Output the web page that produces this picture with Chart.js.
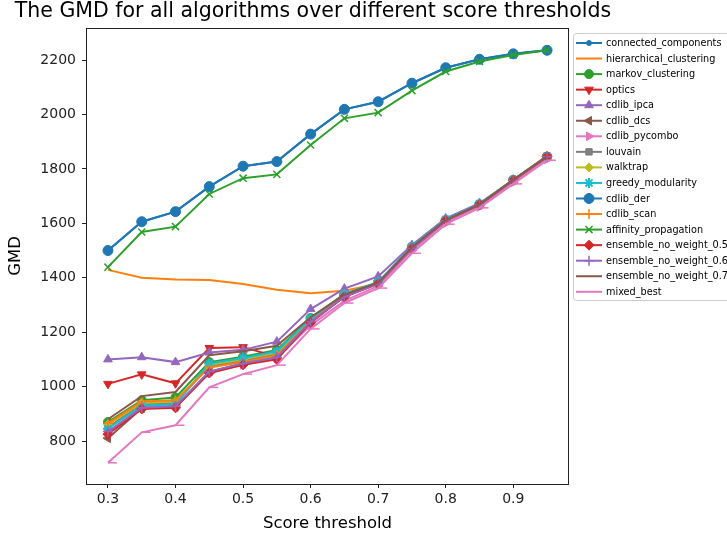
<!DOCTYPE html>
<html>
<head>
<meta charset="utf-8">
<script src="https://cdn.jsdelivr.net/npm/chart.js@4"></script>
<style>
  html, body { margin: 0; padding: 0; background: #fff; overflow: hidden; }
  #wrap { width: 727px; height: 539px; }
</style>
</head>
<body>
<div id="wrap"><canvas id="gmdChart" width="727" height="539"></canvas></div>
<script>
// thresholds on the x axis
const thresholds = [0.3, 0.35, 0.4, 0.45, 0.5, 0.55, 0.6, 0.65, 0.7, 0.75, 0.8, 0.85, 0.9, 0.95];
const xTicks = [0.3, 0.4, 0.5, 0.6, 0.7, 0.8, 0.9];
const yTicks = [800, 1000, 1200, 1400, 1600, 1800, 2000, 2200];

// GMD per algorithm
const connectedComponents = [1500, 1606, 1643, 1735, 1810, 1827, 1928, 2019, 2047, 2115, 2172, 2203, 2223, 2236];
const hierarchicalClustering = [1429, 1400, 1394, 1392, 1377, 1356, 1343, 1352, 1378, 1505, 1607, 1668, 1755, 1840];
const markovClustering = [870, 950, 960, 1090, 1110, 1135, 1252, 1340, 1384, 1514, 1612, 1670, 1760, 1845];
const optics = [1010, 1045, 1012, 1142, 1145, 1110, 1240, 1330, 1380, 1510, 1610, 1668, 1758, 1845];
const cdlibIpca = [1100, 1108, 1090, 1125, 1135, 1165, 1285, 1360, 1405, 1520, 1618, 1674, 1760, 1845];
const cdlibDcs = [810, 920, 925, 1055, 1085, 1105, 1240, 1335, 1380, 1510, 1610, 1668, 1758, 1845];
const cdlibPycombo = [830, 925, 930, 1050, 1080, 1105, 1225, 1315, 1370, 1500, 1600, 1660, 1750, 1835];
const louvain = [850, 935, 940, 1075, 1095, 1120, 1245, 1335, 1380, 1510, 1612, 1670, 1760, 1848];
const walktrap = [860, 940, 945, 1080, 1100, 1125, 1248, 1338, 1382, 1512, 1612, 1670, 1760, 1846];
const greedyModularity = [845, 930, 935, 1085, 1105, 1130, 1250, 1340, 1385, 1515, 1614, 1672, 1760, 1846];
const cdlibDer = [1500, 1606, 1643, 1735, 1810, 1827, 1928, 2019, 2047, 2115, 2172, 2203, 2223, 2236];
const cdlibScan = [865, 945, 950, 1070, 1090, 1115, 1240, 1332, 1378, 1508, 1610, 1668, 1758, 1845];
const affinityPropagation = [1439, 1568, 1588, 1708, 1766, 1780, 1888, 1986, 2007, 2088, 2158, 2195, 2219, 2236];
const ensemble05 = [825, 918, 922, 1050, 1080, 1100, 1235, 1330, 1378, 1508, 1610, 1668, 1758, 1845];
const ensemble06 = [835, 922, 928, 1055, 1085, 1108, 1238, 1330, 1378, 1508, 1610, 1668, 1758, 1845];
const ensemble07 = [880, 965, 980, 1115, 1130, 1150, 1255, 1338, 1382, 1512, 1612, 1670, 1760, 1845];
const mixedBest = [720, 832, 858, 997, 1046, 1079, 1212, 1307, 1362, 1490, 1597, 1657, 1745, 1832];

const series = [
  ['connected_components', connectedComponents, '#1f77b4', 'circle', 0, 2.5, 1],
  ['hierarchical_clustering', hierarchicalClustering, '#ff7f0e', false, 0, 0, 1],
  ['markov_clustering', markovClustering, '#2ca02c', 'circle', 0, 4.5, 1],
  ['optics', optics, '#d62728', 'triangle', 180, 5, 1],
  ['cdlib_ipca', cdlibIpca, '#9467bd', 'triangle', 0, 5, 1],
  ['cdlib_dcs', cdlibDcs, '#8c564b', 'triangle', -90, 5, 1],
  ['cdlib_pycombo', cdlibPycombo, '#e377c2', 'triangle', 90, 5, 1],
  ['louvain', louvain, '#7f7f7f', 'rect', 0, 4.5, 1],
  ['walktrap', walktrap, '#bcbd22', 'rectRot', 0, 4.5, 1],
  ['greedy_modularity', greedyModularity, '#17becf', 'star', 0, 5, 2],
  ['cdlib_der', cdlibDer, '#1f77b4', 'circle', 0, 5, 1],
  ['cdlib_scan', cdlibScan, '#ff7f0e', 'cross', 0, 5, 1.5],
  ['affinity_propagation', affinityPropagation, '#2ca02c', 'crossRot', 0, 5, 1.5],
  ['ensemble_no_weight_0.5', ensemble05, '#d62728', 'rectRot', 0, 5, 1],
  ['ensemble_no_weight_0.6', ensemble06, '#9467bd', 'cross', 0, 5, 1.5],
  ['ensemble_no_weight_0.7', ensemble07, '#8c564b', false, 0, 0, 1],
  ['mixed_best', mixedBest, '#e377c2', 'dash', 0, 9, 1.5]
];

const datasets = series.map(function(s, i) {
  return {
    label: s[0],
    data: s[1].map(function(v, j) { return { x: thresholds[j], y: v }; }),
    borderColor: s[2],
    backgroundColor: s[2],
    borderWidth: 2,
    pointStyle: s[3],
    rotation: s[4],
    pointRadius: s[5],
    pointBorderWidth: s[6],
    pointBorderColor: s[2],
    pointBackgroundColor: s[2],
    tension: 0,
    order: series.length - i
  };
});

const font = 'DejaVu Sans, sans-serif';

// title, box round the axes and the outside legend
const extras = {
  id: 'extras',
  afterDraw: function(chart) {
    const ctx = chart.ctx;
    const a = chart.chartArea;
    ctx.save();
    ctx.strokeStyle = '#222';
    ctx.lineWidth = 1;
    ctx.strokeRect(a.left + 0.5, a.top + 0.5, a.right - a.left - 1, a.bottom - a.top);

    ctx.fillStyle = '#000';
    ctx.font = '20.5px ' + font;
    ctx.textAlign = 'center';
    ctx.textBaseline = 'middle';
    ctx.fillText('The GMD for all algorithms over different score thresholds', 313, 12);

    // legend
    const lx = 573, ly = 33, lh = 267;
    ctx.strokeStyle = '#cccccc';
    ctx.lineWidth = 1;
    ctx.beginPath();
    ctx.roundRect(lx + 0.5, ly + 0.5, 170, lh, 3);
    ctx.stroke();

    ctx.font = '9.7px ' + font;
    ctx.textAlign = 'left';
    chart.data.datasets.forEach(function(ds, i) {
      const y = 43 + i * 15.55;
      ctx.strokeStyle = ds.borderColor;
      ctx.lineWidth = 2;
      ctx.beginPath();
      ctx.moveTo(576, y);
      ctx.lineTo(602, y);
      ctx.stroke();
      if (ds.pointStyle && Chart.helpers && Chart.helpers.drawPoint) {
        ctx.fillStyle = ds.borderColor;
        ctx.lineWidth = ds.pointBorderWidth;
        Chart.helpers.drawPoint(ctx, {
          pointStyle: ds.pointStyle,
          rotation: ds.rotation,
          radius: ds.pointStyle === 'dash' ? 0 : ds.pointRadius,
          borderWidth: ds.pointBorderWidth
        }, 589, y);
      }
      ctx.fillStyle = '#000';
      ctx.fillText(ds.label, 606, y + 0.5);
    });
    ctx.restore();
  }
};

new Chart(document.getElementById('gmdChart'), {
  type: 'line',
  data: { datasets: datasets },
  plugins: [extras],
  options: {
    responsive: false,
    animation: false,
    layout: { padding: { left: 0, right: 158, top: 28, bottom: 0 } },
    plugins: {
      legend: { display: false },
      title: { display: false },
      tooltip: { enabled: false }
    },
    scales: {
      x: {
        type: 'linear',
        min: 0.2675,
        max: 0.9825,
        afterFit: function(scale) { scale.height = 55; },
        afterBuildTicks: function(scale) {
          scale.ticks = xTicks.map(function(v) { return { value: v }; });
        },
        grid: { drawOnChartArea: false, drawTicks: true, tickLength: 4, color: '#222' },
        border: { display: false },
        ticks: {
          color: '#222',
          padding: 3,
          maxRotation: 0,
          font: { family: font, size: 14 },
          callback: function(v) { return v.toFixed(1); }
        },
        title: {
          display: true,
          text: 'Score threshold',
          color: '#000',
          font: { family: font, size: 16.5 },
          padding: { top: 0, bottom: 5 }
        }
      },
      y: {
        type: 'linear',
        min: 642,
        max: 2318,
        afterFit: function(scale) { scale.width = 86; },
        afterBuildTicks: function(scale) {
          scale.ticks = yTicks.map(function(v) { return { value: v }; });
        },
        grid: { drawOnChartArea: false, drawTicks: true, tickLength: 4, color: '#222' },
        border: { display: false },
        ticks: {
          color: '#222',
          padding: 6,
          font: { family: font, size: 14 },
          callback: function(v) { return String(v); }
        },
        title: {
          display: true,
          text: 'GMD',
          color: '#000',
          font: { family: font, size: 16.5 },
          padding: { top: 6, bottom: 0 }
        }
      }
    }
  }
});
</script>
</body>
</html>
